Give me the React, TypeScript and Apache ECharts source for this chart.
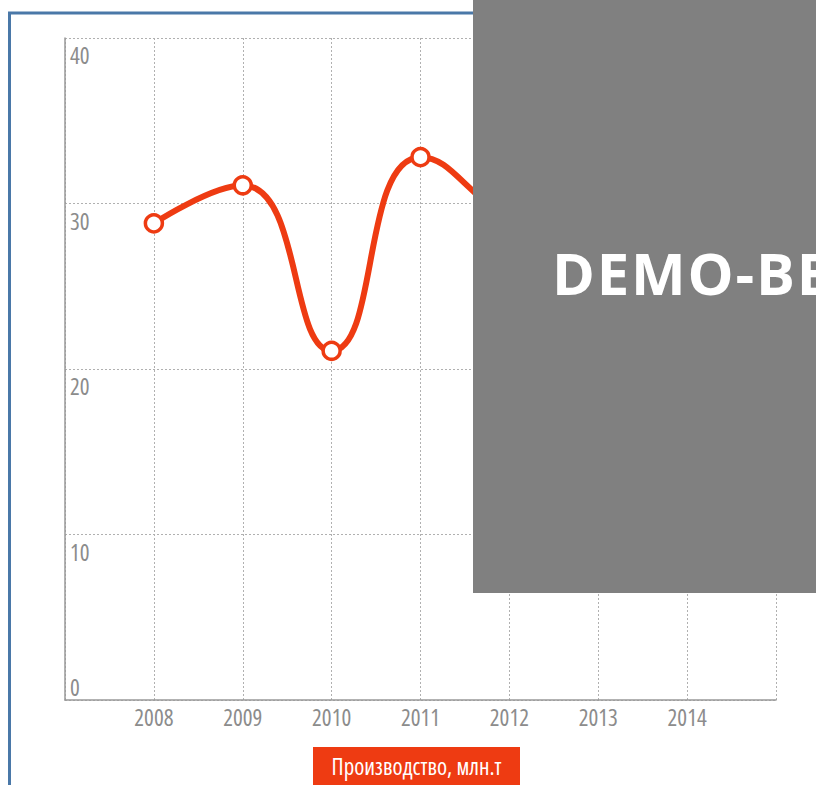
import React, { useEffect, useRef } from "react";
import * as echarts from "echarts";

const years = [2008, 2009, 2010, 2011, 2012, 2013, 2014];
const production = [28.8, 31.1, 21.1, 32.8, 29, 26, 24];
const yTicks = [0, 10, 20, 30, 40];
const seriesName = "Производство, млн.т";
const watermark = "DEMO-ВЕРСИЯ";

const narrow = "'Open Sans', sans-serif";
const red = "#ee3b12";
const gray = "#8c8c8c";

const css = `
svg text:not([style*="58px"]) { font-stretch: 78% !important; }
svg text[style*="58px"] { letter-spacing: 1.8px; }
`;

export default function App() {
  const ref = useRef<HTMLDivElement>(null);
  useEffect(() => {
    if (!ref.current) return;
    const chart = echarts.init(ref.current, null, { renderer: "svg" });
    chart.setOption({
      animation: false,
      backgroundColor: "#ffffff",
      grid: { left: 65, top: 38, right: 40, bottom: 85 },
      xAxis: {
        type: "value",
        min: 2007,
        max: 2015,
        interval: 1,
        axisLine: { show: true, lineStyle: { color: "#999999", width: 1.5 } },
        axisTick: { show: false },
        axisLabel: {
          color: gray,
          fontFamily: narrow,
          fontSize: 23,
          margin: 5,
          formatter: (v: number) => (years.indexOf(v) >= 0 ? String(v) : ""),
        },
        splitLine: { show: true, lineStyle: { color: "#b0b0b0", type: [2, 2], width: 1 } },
      },
      yAxis: {
        type: "value",
        min: yTicks[0],
        max: yTicks[yTicks.length - 1],
        interval: 10,
        axisLine: { show: true, lineStyle: { color: "#999999", width: 1.5 } },
        axisTick: { show: false },
        axisLabel: {
          inside: true,
          margin: 5,
          color: gray,
          fontFamily: narrow,
          fontSize: 23,
          formatter: (v: number) => (v === 0 ? `{b|${v}}` : `{a|${v}}`),
          rich: {
            a: { padding: [34, 0, 0, 0], color: gray, fontFamily: narrow, fontSize: 23 },
            b: { padding: [0, 0, 26, 0], color: gray, fontFamily: narrow, fontSize: 23 },
          },
        },
        splitLine: { show: true, lineStyle: { color: "#b0b0b0", type: [2, 2], width: 1 } },
      },
      series: [
        {
          name: seriesName,
          type: "line",
          smooth: 0.5,
          data: years.map((y, i) => [y, production[i]]),
          lineStyle: { color: red, width: 6 },
          symbol: "circle",
          symbolSize: 17,
          itemStyle: { color: "#ffffff", borderColor: red, borderWidth: 3.5 },
          z: 5,
        },
      ],
      graphic: [
        {
          type: "rect",
          z: 100,
          shape: { x: 9.5, y: 13, width: 1000, height: 1000 },
          style: { fill: "none", stroke: "#4a78a8", lineWidth: 3 },
        },
        {
          type: "rect",
          z: 100,
          shape: { x: 313, y: 747, width: 207, height: 50 },
          style: { fill: red },
        },
        {
          type: "text",
          z: 101,
          x: 416.5,
          y: 766,
          style: {
            text: seriesName,
            fill: "#ffffff",
            fontSize: 23,
            fontFamily: narrow,
            align: "center",
            verticalAlign: "middle",
          },
        },
        {
          type: "rect",
          z: 101,
          shape: { x: 473, y: 0, width: 400, height: 593 },
          style: { fill: "#808080" },
        },
        {
          type: "text",
          z: 102,
          x: 552,
          y: 272,
          style: {
            text: watermark,
            fill: "#ffffff",
            font: "bold 58px 'Open Sans', sans-serif",
            verticalAlign: "middle",
            align: "left",
          },
        },
      ],
    });
    return () => chart.dispose();
  }, []);
  return (
    <div>
      <style>{css}</style>
      <div
        ref={ref}
        style={{ position: "fixed", left: 0, top: 0, width: 816, height: 785 }}
      />
    </div>
  );
}
